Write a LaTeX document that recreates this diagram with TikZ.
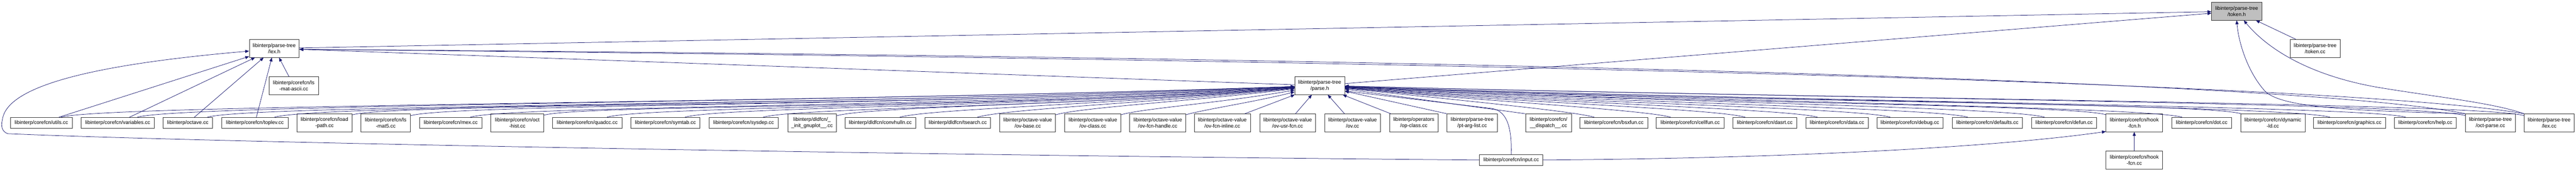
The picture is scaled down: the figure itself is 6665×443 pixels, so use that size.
\documentclass[tikz,border=0pt]{standalone}
\usepackage{fontspec}
\setmainfont{Liberation Sans}
\usetikzlibrary{arrows.meta}
\definecolor{edgecol}{RGB}{25,25,112}
\definecolor{rootfill}{RGB}{191,191,191}
\newcommand\dxfont{\fontsize{13.3}{16.7}\selectfont}
\newcommand\lfan[4]{\draw[edge] (#1.16) .. controls +(16:#3pt) and +(#2:#4pt) .. (parseh.#2);}
\newcommand\rfan[4]{\draw[edge] (#1.164) .. controls +(164:#3pt) and +(#2:#4pt) .. (parseh.#2);}
\begin{document}
\begin{tikzpicture}[x=1pt,y=1pt,
 box/.style={draw=black!80, line width=1pt, fill=white, inner sep=0pt, align=center, font=\dxfont, minimum height=28pt},
 box2/.style={box, minimum height=46pt},
 edge/.style={draw=edgecol, line width=1pt, -{Triangle[length=10pt,width=8pt]}}]
\fill[white] (0,0) rectangle (6665,-443);
\useasboundingbox (0,0) rectangle (6665,-443);

% rank 0-2
\node[box2, fill=rootfill, minimum width=130pt] (tokenh) at (5787,-29) {libinterp/parse-tree\\/token.h};
\node[box2, minimum width=129pt] (lexh) at (709.5,-125) {libinterp/parse-tree\\/lex.h};
\node[box2, minimum width=130pt] (tokencc) at (5990,-125) {libinterp/parse-tree\\/token.cc};
\node[box2, minimum width=129pt] (parseh) at (3414.5,-221) {libinterp/parse-tree\\/parse.h};
\node[box2, minimum width=128pt] (lsmatascii) at (760,-221) {libinterp/corefcn/ls\\-mat-ascii.cc};

% rank 3
\node[box, minimum width=160pt] (utils) at (107,-317) {libinterp/corefcn/utils.cc};
\node[box, minimum width=189pt] (variables) at (304.5,-317) {libinterp/corefcn/variables.cc};
\node[box, minimum width=128pt] (octave) at (486,-317) {libinterp/octave.cc};
\node[box, minimum width=171pt] (toplev) at (659.5,-317) {libinterp/corefcn/toplev.cc};
\node[box2, minimum width=143pt] (loadpath) at (839.5,-317) {libinterp/corefcn/load\\-path.cc};
\node[box2, minimum width=128pt] (lsmat5) at (998,-317) {libinterp/corefcn/ls\\-mat5.cc};
\node[box, minimum width=162pt] (mex) at (1166,-317) {libinterp/corefcn/mex.cc};
\node[box2, minimum width=137pt] (octhist) at (1338.5,-317) {libinterp/corefcn/oct\\-hist.cc};
\node[box, minimum width=179pt] (quadcc) at (1519.5,-317) {libinterp/corefcn/quadcc.cc};
\node[box, minimum width=179pt] (symtab) at (1721.5,-317) {libinterp/corefcn/symtab.cc};
\node[box, minimum width=178pt] (sysdep) at (1924,-317) {libinterp/corefcn/sysdep.cc};
\node[box2, minimum width=126pt] (initgnuplot) at (2101,-317) {libinterp/dldfcn/\_\\\_init\_gnuplot\_\_.cc};
\node[box, minimum width=183pt] (convhulln) at (2277.5,-317) {libinterp/dldfcn/convhulln.cc};
\node[box, minimum width=170pt] (tsearch) at (2478,-317) {libinterp/dldfcn/tsearch.cc};
\node[box2, minimum width=144pt] (ovbase) at (2659,-317) {libinterp/octave-value\\/ov-base.cc};
\node[box2, minimum width=145pt] (ovclass) at (2827.5,-317) {libinterp/octave-value\\/ov-class.cc};
\node[box2, minimum width=145pt] (ovfcnhandle) at (2995.5,-317) {libinterp/octave-value\\/ov-fcn-handle.cc};
\node[box2, minimum width=145pt] (ovfcninline) at (3162.5,-317) {libinterp/octave-value\\/ov-fcn-inline.cc};
\node[box2, minimum width=145pt] (ovusrfcn) at (3331.5,-317) {libinterp/octave-value\\/ov-usr-fcn.cc};
\node[box2, minimum width=145pt] (ov) at (3499.5,-317) {libinterp/octave-value\\/ov.cc};
\node[box2, minimum width=126pt] (opclass) at (3658,-317) {libinterp/operators\\/op-class.cc};
\node[box2, minimum width=130pt] (ptarglist) at (3809,-317) {libinterp/parse-tree\\/pt-arg-list.cc};
\node[box2, minimum width=119pt] (dispatch) at (4006.5,-317) {libinterp/corefcn/\\\_\_dispatch\_\_.cc};
\node[box, minimum width=175pt] (bsxfun) at (4175.5,-317) {libinterp/corefcn/bsxfun.cc};
\node[box, minimum width=176pt] (cellfun) at (4373,-317) {libinterp/corefcn/cellfun.cc};
\node[box, minimum width=166pt] (dasrt) at (4566,-317) {libinterp/corefcn/dasrt.cc};
\node[box, minimum width=162pt] (data) at (4753,-317) {libinterp/corefcn/data.cc};
\node[box, minimum width=171pt] (debug) at (4941.5,-317) {libinterp/corefcn/debug.cc};
\node[box, minimum width=182pt] (defaults) at (5142,-317) {libinterp/corefcn/defaults.cc};
\node[box, minimum width=169pt] (defun) at (5340.5,-317) {libinterp/corefcn/defun.cc};
\node[box2, minimum width=146pt] (hookfcnh) at (5522,-317) {libinterp/corefcn/hook\\-fcn.h};
\node[box, minimum width=155pt] (dot) at (5696.5,-317) {libinterp/corefcn/dot.cc};
\node[box2, minimum width=167pt] (dynamicld) at (5880.5,-317) {libinterp/corefcn/dynamic\\-ld.cc};
\node[box, minimum width=186pt] (graphics) at (6079,-317) {libinterp/corefcn/graphics.cc};
\node[box, minimum width=160pt] (help) at (6275,-317) {libinterp/corefcn/help.cc};
\node[box2, minimum width=129pt] (octparse) at (6443.5,-317) {libinterp/parse-tree\\/oct-parse.cc};
\node[box2, minimum width=129pt] (lexcc) at (6595.5,-317) {libinterp/parse-tree\\/lex.cc};

% rank 4
\node[box, minimum width=164pt] (input) at (3910,-413) {libinterp/corefcn/input.cc};
\node[box2, minimum width=146pt] (hookfcncc) at (5522,-413) {libinterp/corefcn/hook\\-fcn.cc};

% edges to token.h
\draw[edge] (lexh) -- (tokenh);
\draw[edge] (parseh) -- (tokenh);
\draw[edge] (tokencc) -- (tokenh);
\draw[edge] (octparse.north west) .. controls (6050,-285) and (5900,-275) .. (5860,-235) .. controls (5815,-185) and (5792,-110) .. (tokenh.south);
\draw[edge] (lexcc.north west) .. controls (6450,-265) and (6300,-250) .. (6150,-225) .. controls (5980,-195) and (5870,-130) .. (tokenh.-52);

% edges to lex.h
\draw[edge] (parseh) -- (lexh);
\draw[edge] (octparse.north west) .. controls (6000,-215) and (4000,-150) .. (lexh.-2);
\draw[edge] (lexcc.north west) .. controls (6150,-225) and (4200,-160) .. (lexh.-2);
\draw[edge] (lsmatascii) -- (lexh);
\draw[edge] (utils) -- (lexh);
\draw[edge] (variables) -- (lexh);
\draw[edge] (octave) -- (lexh);
\draw[edge] (toplev) -- (lexh);
\draw[edge] (input.west) .. controls (2500,-402) and (600,-370) .. (20,-345) .. controls (5,-340) and (2,-325) .. (6,-310) .. controls (15,-230) and (200,-170) .. (lexh.186);

% edges to parse.h from the left
\lfan{utils}{182}{120}{1250}
\lfan{variables}{182}{120}{1200}
\lfan{octave}{182.5}{120}{1150}
\lfan{toplev}{182.5}{120}{1080}
\lfan{loadpath}{183}{110}{1000}
\lfan{lsmat5}{183}{110}{940}
\lfan{mex}{183.5}{110}{880}
\lfan{octhist}{184}{100}{800}
\lfan{quadcc}{184}{100}{730}
\lfan{symtab}{184.5}{100}{650}
\lfan{sysdep}{185}{90}{570}
\lfan{initgnuplot}{185}{90}{500}
\lfan{convhulln}{185.5}{80}{430}
\lfan{tsearch}{186}{80}{350}
\lfan{ovbase}{187}{70}{260}
\lfan{ovclass}{190}{60}{190}
\lfan{ovfcnhandle}{194}{50}{110}
\draw[edge] (ovfcninline.22) -- (parseh.200);
\draw[edge] (ovusrfcn) -- (parseh);
\draw[edge] (ov) -- (parseh);

% edges to parse.h from the right
\draw[edge] (opclass) -- (parseh);
\draw[edge] (ptarglist.north west) -- (parseh);
\draw[edge] (dispatch.north west) -- (parseh);
\draw[edge] (input.north) .. controls (3912,-320) and (3895,-286) .. (3860,-280) -- (parseh.-12);
\rfan{bsxfun}{-6}{60}{260}
\rfan{cellfun}{-5.5}{70}{340}
\rfan{dasrt}{-5}{80}{420}
\rfan{data}{-4.5}{80}{500}
\rfan{debug}{-4}{90}{570}
\rfan{defaults}{-3.5}{90}{650}
\rfan{defun}{-3}{100}{720}
\rfan{hookfcnh}{-3}{100}{800}
\rfan{dot}{-2.5}{100}{870}
\rfan{dynamicld}{-2.5}{110}{950}
\rfan{graphics}{-2}{110}{1020}
\rfan{help}{-2}{110}{1100}
\rfan{octparse}{-1.5}{120}{1180}
\rfan{lexcc}{-1.5}{120}{1250}

% edges to hook-fcn.h
\draw[edge] (input.east) .. controls (4700,-408) and (5200,-375) .. (hookfcnh.197);
\draw[edge] (hookfcncc) -- (hookfcnh);
\end{tikzpicture}
\end{document}
